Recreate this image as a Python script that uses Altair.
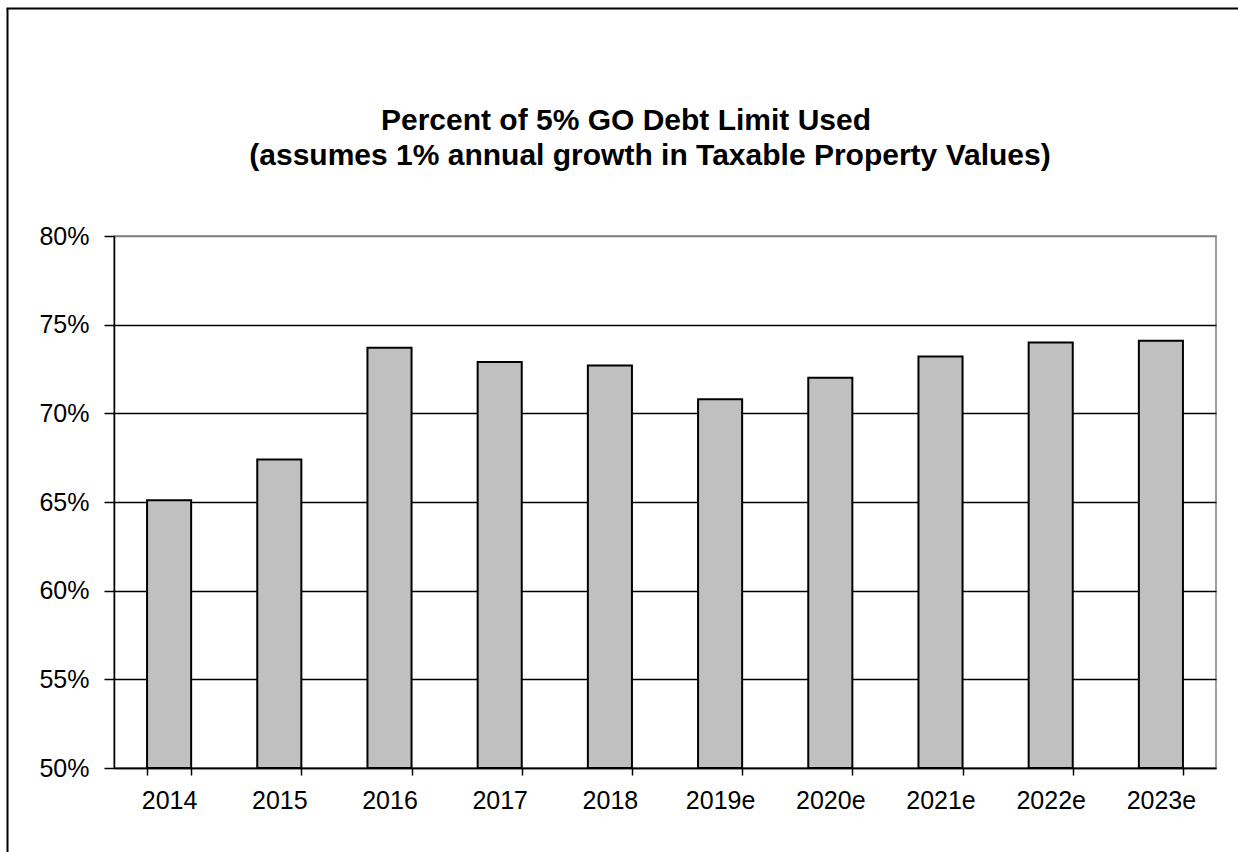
import altair as alt
import pandas as pd

# ---- data ----
years = ["2014", "2015", "2016", "2017", "2018", "2019e", "2020e", "2021e", "2022e", "2023e"]
pct_used = [0.651, 0.674, 0.737, 0.729, 0.727, 0.708, 0.720, 0.732, 0.740, 0.741]
y_ticks = [0.50, 0.55, 0.60, 0.65, 0.70, 0.75, 0.80]
title_lines = ["Percent of 5% GO Debt Limit Used",
               "(assumes 1% annual growth in Taxable Property Values)"]

FONT = "Liberation Sans"

df = pd.DataFrame({"year": years, "pct": pct_used})

bars = alt.Chart(df).mark_bar(fill="#C0C0C0", stroke="black", strokeWidth=2).encode(
    x=alt.X("year:N", sort=years,
            scale=alt.Scale(paddingInner=0.6, paddingOuter=0.3),
            axis=alt.Axis(title=None, labelAngle=0, tickBand="extent", tickExtra=True,
                          tickSize=7, labelPadding=13, domainColor="black", tickColor="black",
                          domainWidth=1.5, tickWidth=1.5, labelFont=FONT, labelFontSize=25,
                          labelColor="black", grid=False)),
    y=alt.Y("pct:Q",
            scale=alt.Scale(domain=[0.5, 0.8], zero=False, nice=False),
            axis=alt.Axis(title=None, values=y_ticks, format=".0%", tickSize=10,
                          labelPadding=15, domainColor="black", tickColor="black",
                          domainWidth=1.5, tickWidth=1.5, labelFont=FONT, labelFontSize=25,
                          labelColor="black", grid=True,
                          gridColor=alt.condition("datum.value >= 0.799", alt.value("#808080"), alt.value("black")),
                          gridWidth=1.5)),
    y2=alt.datum(0.5),
)

t1 = alt.Chart(pd.DataFrame({"t": [title_lines[0]]})).mark_text(
    font=FONT, fontSize=30, fontWeight="bold", align="center", baseline="alphabetic", color="black"
).encode(text="t:N", x=alt.value(512), y=alt.value(-106))

t2 = alt.Chart(pd.DataFrame({"t": [title_lines[1]]})).mark_text(
    font=FONT, fontSize=30, fontWeight="bold", align="center", baseline="alphabetic", color="black"
).encode(text="t:N", x=alt.value(536), y=alt.value(-71))

frame_df = pd.DataFrame({"k": [0]})
frame_left = alt.Chart(frame_df).mark_rule(color="black", strokeWidth=2).encode(
    x=alt.value(-106.5), y=alt.value(-227.5), y2=alt.value(620))
frame_top = alt.Chart(frame_df).mark_rule(color="black", strokeWidth=2).encode(
    x=alt.value(-107.5), x2=alt.value(1130), y=alt.value(-227.5))

chart = alt.layer(bars, t1, t2, frame_left, frame_top).properties(
    width=1102, height=532,
    autosize=alt.AutoSizeParams(type="none"),
    padding={"left": 114, "top": 236, "right": 22, "bottom": 84},
    background="white",
).configure_view(stroke="#808080", strokeWidth=1.5)

chart.save("out.html", embed_options={"renderer": "svg", "actions": False})
